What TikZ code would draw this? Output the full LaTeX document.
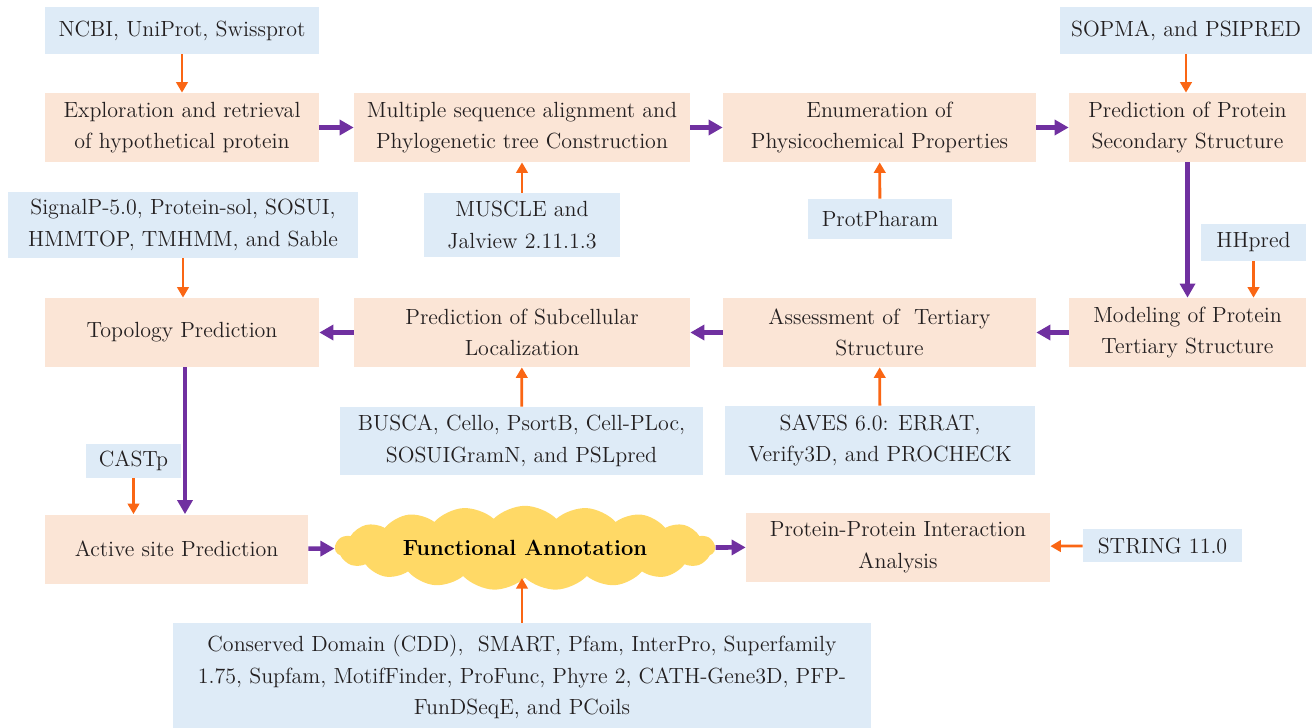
\documentclass[tikz,border=0pt]{standalone}
\usepackage{tikz}
\usetikzlibrary{arrows.meta}
\usetikzlibrary{shapes.symbols}
\usepackage{xcolor}
\definecolor{ColStep}{RGB}{251,229,214}
\definecolor{ColTool}{RGB}{222,235,247}
\definecolor{ColMain}{RGB}{112,48,160}
\definecolor{ColSide}{RGB}{250,102,20}
\definecolor{ColCloud}{RGB}{255,217,102}
\definecolor{ColText}{RGB}{35,31,32}
\tikzstyle{StepNode}=[fill=ColStep,align=center,inner sep=2pt,minimum height=1.38cm,
text=ColText,font=\fontsize{12.5}{18}\selectfont]
\tikzstyle{ToolNode}=[fill=ColTool,align=center,inner sep=2pt,
text=ColText,font=\fontsize{12.5}{18}\selectfont]
\tikzstyle{CloudNode}=[cloud,cloud puffs=19,cloud puff arc=90,aspect=5.6,fill=ColCloud,
inner sep=0pt,minimum width=7.6cm,minimum height=1.15cm,text=black,
font=\fontsize{12.5}{18}\selectfont\bfseries]
\tikzstyle{MainEdge}=[ColMain,line width=2.6pt,-{Triangle[length=8pt,width=8.5pt]}]
\tikzstyle{SideEdge}=[ColSide,line width=1.6pt,-{Triangle[length=6pt,width=6.5pt]}]

\begin{document}
\begin{tikzpicture}[x=0.02cm,y=-0.02cm]
        \useasboundingbox(0,0)rectangle(1314,727);
        \node[ToolNode,minimum width=5.48cm,minimum height=0.94cm](ncbi)at(182,30.5){NCBI, UniProt, Swissprot};
        \node[ToolNode,minimum width=5.04cm,minimum height=0.94cm](sopma)at(1186,30.5){SOPMA, and PSIPRED};
        \node[StepNode,minimum width=5.48cm](expl)at(182,127.5){Exploration and retrieval\\of hypothetical protein};
        \node[StepNode,minimum width=6.72cm](msa)at(522,127.5){Multiple sequence alignment and\\Phylogenetic tree Construction};
        \node[StepNode,minimum width=6.26cm](enum)at(879.5,127.5){Enumeration of\\Physicochemical Properties};
        \node[StepNode,minimum width=4.74cm](sec)at(1187.5,127.5){Prediction of Protein\\Secondary Structure};
        \node[ToolNode,minimum width=7cm,minimum height=1.32cm](signalp)at(183,225){SignalP-5.0, Protein-sol, SOSUI,\\HMMTOP, TMHMM, and Sable};
        \node[ToolNode,minimum width=3.92cm,minimum height=1.28cm](muscle)at(522,225){MUSCLE and\\Jalview 2.11.1.3};
        \node[ToolNode,minimum width=2.88cm,minimum height=0.8cm](protph)at(880,219){ProtPharam};
        \node[ToolNode,minimum width=2.1cm,minimum height=0.74cm](hhpred)at(1253.5,242.5){HHpred};
        \node[StepNode,minimum width=5.48cm](topo)at(182,332.5){Topology Prediction};
        \node[StepNode,minimum width=6.72cm](subcell)at(522,332.5){Prediction of Subcellular\\Localization};
        \node[StepNode,minimum width=6.26cm](assess)at(879.5,332.5){Assessment of\ \ Tertiary\\Structure};
        \node[StepNode,minimum width=4.74cm](model)at(1187.5,332.5){Modeling of Protein\\Tertiary Structure};
        \node[ToolNode,minimum width=7.26cm,minimum height=1.36cm](busca)at(521.5,441){BUSCA, Cello, PsortB, Cell-PLoc,\\SOSUIGramN, and PSLpred};
        \node[ToolNode,minimum width=6.2cm,minimum height=1.38cm](saves)at(880,440.5){SAVES 6.0: ERRAT,\\Verify3D, and PROCHECK};
        \node[ToolNode,minimum width=1.9cm,minimum height=0.68cm](castp)at(133.5,461){CASTp};
        \node[StepNode,minimum width=5.26cm](active)at(176.5,549){Active site Prediction};
        \node[CloudNode](func)at(525,548){Functional Annotation};
        \node[StepNode,minimum width=6.08cm](ppi)at(898,547){Protein-Protein Interaction\\Analysis};
        \node[ToolNode,minimum width=3.18cm,minimum height=0.66cm](string)at(1162.5,545.5){STRING 11.0};
        \node[ToolNode,minimum width=13.96cm,minimum height=2.16cm](domains)at(522,677){Conserved Domain (CDD),\ \ SMART, Pfam, InterPro, Superfamily\\1.75, Supfam, MotifFinder, ProFunc, Phyre 2, CATH-Gene3D, PFP-\\FunDSeqE, and PCoils};
        \draw[SideEdge](ncbi)--(expl);
        \draw[SideEdge](sopma.south)--(sopma.south|-sec.north);
        \draw[MainEdge](expl)--(msa);
        \draw[MainEdge](msa)--(enum);
        \draw[MainEdge](enum)--(sec);
        \draw[SideEdge](muscle)--(msa);
        \draw[SideEdge](protph)--(enum);
        \draw[MainEdge](sec)--(model);
        \draw[SideEdge](hhpred.south)--(hhpred.south|-model.north);
        \draw[SideEdge](signalp.south)--(signalp.south|-topo.north);
        \draw[MainEdge](model)--(assess);
        \draw[MainEdge](assess)--(subcell);
        \draw[MainEdge](subcell)--(topo);
        \draw[SideEdge](busca)--(subcell);
        \draw[SideEdge](saves)--(assess);
        \draw[MainEdge]([xshift=0.06cm]topo.south)--([xshift=0.06cm]topo.south|-active.north);
        \draw[SideEdge](castp.south)--(castp.south|-active.north);
        \draw[MainEdge](active)--(func);
        \draw[MainEdge](func)--(ppi);
        \draw[SideEdge](string)--(ppi);
        \draw[SideEdge](domains.north)--(domains.north|-func.south);
    \end{tikzpicture}
\end{document}
